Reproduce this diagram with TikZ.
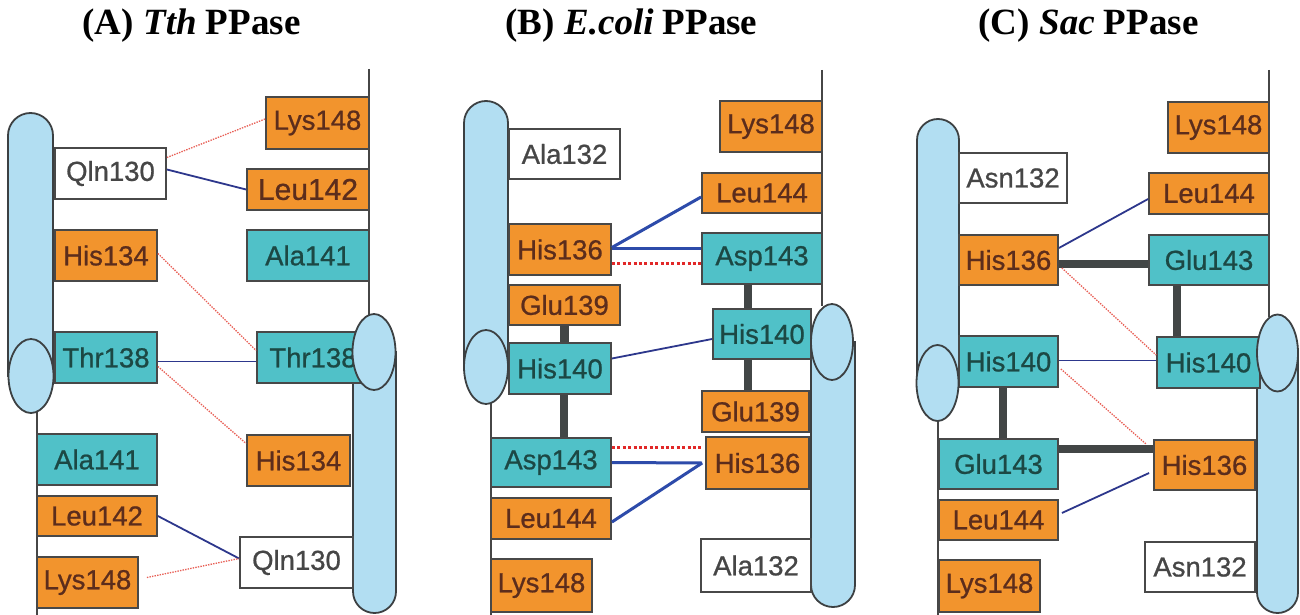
\documentclass[tikz,border=0pt]{standalone}
\usepackage{fontspec}
\setmainfont{Liberation Serif}
\newfontfamily\resfont[FakeBold=0.8]{Liberation Sans}
\usetikzlibrary{calc}

\definecolor{orangeF}{RGB}{242,148,45}
\definecolor{cyanF}{RGB}{80,193,200}
\definecolor{boxline}{RGB}{72,72,72}
\definecolor{txtO}{RGB}{92,45,28}
\definecolor{txtC}{RGB}{28,72,68}
\definecolor{txtW}{RGB}{70,70,70}
\definecolor{helixFill}{RGB}{178,222,242}
\definecolor{helixLine}{RGB}{60,64,66}
\definecolor{chainGray}{RGB}{70,70,70}
\definecolor{bondblue}{RGB}{45,55,140}
\definecolor{bondblueB}{RGB}{45,75,170}
\definecolor{dotred}{RGB}{232,95,85}
\definecolor{dotredB}{RGB}{225,40,40}
\definecolor{barGray}{RGB}{66,70,70}

\begin{document}
\begin{tikzpicture}[x=1pt,y=-1pt,
  res/.style={draw=boxline, line width=1.8pt, inner sep=0pt, anchor=center,
    font=\resfont\fontsize{27.5}{30}\selectfont},
  orng/.style={res, fill=orangeF, text=txtO},
  cyn/.style={res, fill=cyanF, text=txtC},
  wht/.style={res, fill=white, text=txtW},
  sz/.style 2 args={minimum width=#1pt, minimum height=#2pt},
  helix/.style={draw=helixLine, line width=1.8pt, fill=helixFill},
  chain/.style={draw=chainGray, line width=1.8pt},
  hbond/.style={draw=bondblue, line width=1.8pt},
  hbondB/.style={draw=bondblueB, line width=3pt},
  vdw/.style={draw=dotred, line width=1.3pt, dash pattern=on 1.4pt off 1.2pt},
  vdwB/.style={draw=dotredB, line width=3pt, dash pattern=on 3pt off 2.4pt},
  salt/.style={draw=barGray, line width=8.5pt},
  title/.style={font=\bfseries\fontsize{37}{42}\selectfont, text=black, inner sep=0pt}
]
\fill[white] (0,0) rectangle (1300,615);
\useasboundingbox (0,0) rectangle (1300,615);

% ---------- titles ----------
\node[title] (tA) at (191.5,26) {(A) \textit{Tth} PPase};
\node[title] (tB) at (631.5,26) {(B) \textit{E.coli} PPase};
\node[title] (tC) at (1088.5,26) {(C) \textit{Sac} PPase};

% ---------- helix bodies ----------
% panel A
\path[helix] (8,376) -- (8,135.5) arc[start angle=180,end angle=0,radius=22.5pt] -- (53,376) -- cycle;
\path[helix] (353,352) -- (353,591.5) arc[start angle=180,end angle=360,radius=21.5pt] -- (396,352) -- cycle;
% panel B
\path[helix] (464,367) -- (464,123) arc[start angle=180,end angle=0,radius=22pt] -- (508,367) -- cycle;
\path[helix] (811,342) -- (811,585) arc[start angle=180,end angle=360,radius=22pt] -- (855,342) -- cycle;
% panel C
\path[helix] (917,383) -- (917,140) arc[start angle=180,end angle=0,radius=21pt] -- (959,383) -- cycle;
\path[helix] (1257,353) -- (1257,592.5) arc[start angle=180,end angle=360,radius=20.5pt] -- (1298,353) -- cycle;

% ---------- backbone strands ----------
\draw[chain] (37,410) -- (37,615);
\draw[chain] (369,69) -- (369,316);
\draw[chain] (491,400) -- (491,615);
\draw[chain] (822,70) -- (822,306);
\draw[chain] (938,418) -- (938,615);
\draw[chain] (1269,70) -- (1269,317);

% ---------- panel A residues ----------
\node[wht, sz={111}{51}] (aQ1) at (110.5,173.5) {Qln130};
\node[orng,sz={102}{51}] (aH1) at (106,255.5) {His134};
\node[cyn, sz={102}{51}] (aT1) at (106,357.5) {Thr138};
\node[cyn, sz={120}{51}] (aA1) at (97,459.5) {Ala141};
\node[orng,sz={120}{40}] (aL1) at (97,516) {Leu142};
\node[orng,sz={101}{51}] (aK1) at (87.5,582.5) {Lys148};
\node[orng,sz={103}{52}] (aK2) at (317.5,123) {Lys148};
\node[orng,sz={122}{41},font=\resfont\fontsize{30}{32}\selectfont] (aL2) at (308,189.5) {Leu142};
\node[cyn, sz={122}{51}] (aA2) at (308,255.5) {Ala141};
\node[cyn, sz={112}{51}] (aT2) at (313,357.5) {Thr138};
\node[orng,sz={103}{51}] (aH2) at (298.5,460.5) {His134};
\node[wht, sz={113}{51}] (aQ2) at (296.5,562.5) {Qln130};

% ---------- panel B residues ----------
\node[wht, sz={111}{50}] (bA1) at (564.5,154) {Ala132};
\node[orng,sz={102}{51}] (bH1) at (560,249.5) {His136};
\node[orng,sz={111}{40}] (bG1) at (564.5,305) {Glu139};
\node[cyn, sz={102}{51}] (bI1) at (560,368.5) {His140};
\node[cyn, sz={120}{49}] (bD1) at (551,462.5) {Asp143};
\node[orng,sz={120}{41}] (bL1) at (551,518.5) {Leu144};
\node[orng,sz={101}{53}] (bK1) at (541.5,585.5) {Lys148};
\node[orng,sz={102}{51}] (bK2) at (771,126.5) {Lys148};
\node[orng,sz={120}{40}] (bL2) at (762,193) {Leu144};
\node[cyn, sz={120}{51}] (bD2) at (762,258.5) {Asp143};
\node[cyn, sz={98}{50}]  (bI2) at (762,334) {His140};
\node[orng,sz={107}{41}] (bG2) at (755.5,411.5) {Glu139};
\node[orng,sz={103}{52}] (bH2) at (757.5,463) {His136};
\node[wht, sz={110}{53}] (bA2) at (756,565.5) {Ala132};

% ---------- panel C residues ----------
\node[wht, sz={108}{50}] (cA1) at (1013,178) {Asn132};
\node[orng,sz={99}{50}]  (cH1) at (1008.5,260) {His136};
\node[cyn, sz={99}{51}]  (cI1) at (1008.5,361.5) {His140};
\node[cyn, sz={119}{50}] (cG1) at (998.5,464) {Glu143};
\node[orng,sz={119}{40}] (cL1) at (998.5,520) {Leu144};
\node[orng,sz={101}{52}] (cK1) at (989.5,586) {Lys148};
\node[orng,sz={101}{51}] (cK2) at (1218.5,127.5) {Lys148};
\node[orng,sz={120}{41}] (cL2) at (1209,193.5) {Leu144};
\node[cyn, sz={120}{50}] (cG2) at (1209,260) {Glu143};
\node[cyn, sz={103}{51}] (cI2) at (1208.5,362.5) {His140};
\node[orng,sz={101}{50}] (cH2) at (1204.5,465) {His136};
\node[wht, sz={110}{50}] (cA2) at (1200,567) {Asn132};

% ---------- panel A contacts ----------
\draw[vdw]   ([yshift=16pt]aQ1.east) -- ([yshift=4pt]aK2.west);
\draw[hbond] ([yshift=4pt]aQ1.east) -- (aL2.west);
\draw[vdw]   ([yshift=2pt]aH1.east) -- ([yshift=7pt]aT2.west);
\draw[hbond] ([yshift=-4pt]aT1.east) -- ([yshift=-4pt]aT2.west);
\draw[vdw]   ([yshift=-9pt]aT1.east) -- ([yshift=17pt]aH2.west);
\draw[hbond] (aL1.east) -- ([yshift=4pt]aQ2.west);
\draw[vdw]   ([xshift=8pt,yshift=5pt]aK1.east) -- ([yshift=4pt]aQ2.west);

% ---------- panel B contacts ----------
\draw[salt] (bG1.south) -- (bG1.south |- bI1.north);
\draw[salt] ([xshift=4pt]bI1.south) -- ([xshift=4pt]bI1.south |- bD1.north);
\draw[salt] ([xshift=-14pt]bD2.south) -- ([xshift=-14pt]bD2.south |- bI2.north);
\draw[salt] ([xshift=-14pt]bD2.south |- bI2.south) -- ([xshift=-14pt]bD2.south |- bG2.north);
\draw[hbondB] ([yshift=2pt]bH1.east) -- ([yshift=-4pt]bL2.west);
\draw[hbondB] ([yshift=1.5pt]bH1.east) -- ([yshift=1.5pt]bH1.east -| bD2.west);
\draw[vdwB]   ([yshift=-13.5pt]bH1.east) -- ([yshift=-13.5pt]bH1.east -| bD2.west);
\draw[hbond]  ([yshift=10pt]bI1.east) -- ([yshift=-5pt]bI2.west);
\draw[vdwB]   ([yshift=15pt]bD1.east) -- ([xshift=-3pt,yshift=15pt]bD1.east -| bH2.west);
\draw[hbondB] (bD1.east) -- ([xshift=-3pt]bH2.west);
\draw[hbondB] ([yshift=-3.5pt]bL1.east) -- ([xshift=-3pt]bH2.west);

% ---------- panel C contacts ----------
\draw[salt] ([yshift=-4pt]cH1.east) -- ([yshift=-4pt]cH1.east -| cG2.west);
\draw[salt] ([xshift=-32pt]cG2.south) -- ([xshift=-32pt]cG2.south |- cI2.north);
\draw[salt] ([xshift=-5.5pt]cI1.south) -- ([xshift=-5.5pt]cI1.south |- cG1.north);
\draw[salt] ([yshift=15pt]cG1.east) -- ([yshift=15pt]cG1.east -| cH2.west);
\draw[hbond] ([yshift=12pt]cH1.east) -- ([yshift=-5.5pt]cL2.west);
\draw[vdw]   ([xshift=3pt,yshift=-8pt]cH1.east) -- ([yshift=7.5pt]cI2.west);
\draw[hbond] ([yshift=1pt]cI1.east) -- ([yshift=1pt]cI1.east -| cI2.west);
\draw[vdw]   ([xshift=2pt,yshift=-7.5pt]cI1.east) -- ([xshift=-7pt,yshift=-5pt]cH2.north west);
\draw[hbond] ([xshift=3pt,yshift=7pt]cL1.east) -- ([xshift=-4pt,yshift=-8pt]cH2.west);

% ---------- helix ends drawn over the strands ----------
\draw[helix] (31,376) ellipse[x radius=22.5pt, y radius=37pt];
\draw[helix] (374,352) ellipse[x radius=21.5pt, y radius=38pt];
\draw[helix] (486,367) ellipse[x radius=22pt, y radius=37pt];
\draw[helix] (832,342) ellipse[x radius=21pt, y radius=38pt];
\draw[helix] (937.5,383) ellipse[x radius=21pt, y radius=38pt];
\draw[helix] (1277.5,353) ellipse[x radius=20.5pt, y radius=38.5pt];
\end{tikzpicture}
\end{document}
